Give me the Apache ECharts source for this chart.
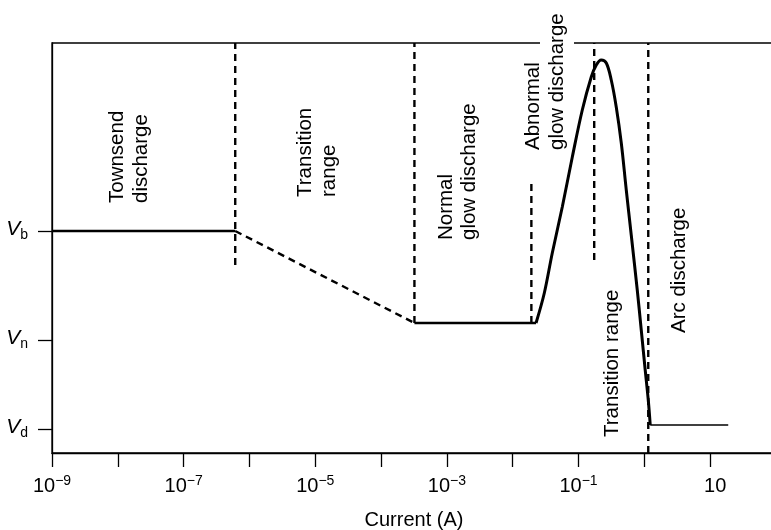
<!DOCTYPE html>
<html>
<head>
<meta charset="utf-8">
<script src="https://cdn.jsdelivr.net/npm/echarts@6/dist/echarts.min.js"></script>
<style>html,body{margin:0;padding:0;background:#fff;}#c{width:771px;height:530px;}</style>
</head>
<body>
<div id="c"></div>
<script>
// ---- data (current in A, voltage in arbitrary units) ----
const townsendPts = [[1e-9, 222], [6.08e-7, 222]];
const transitionPts = [[6.08e-7, 222], [3.21e-4, 130]];
const normalGlowPts = [[3.21e-4, 130], [0.0226, 130]];
const abnormalCurvePts = [
  [0.0226, 130], [0.0302, 160], [0.0399, 200], [0.0566, 246], [0.0804, 296],
  [0.114, 343], [0.156, 376], [0.186, 388], [0.221, 393], [0.264, 390],
  [0.314, 373], [0.374, 346], [0.446, 310], [0.531, 263], [0.632, 218],
  [0.780, 163], [0.897, 123], [1.03, 83], [1.146, 53], [1.228, 28]
];
const arcPts = [[1.228, 28], [18.8, 28]];
// dashed boundary lines: [current, lowV, highV]
const boundaries = [
  [6.08e-7, 188, 410],
  [3.21e-4, 130, 410],
  [0.0192, 130, 270],
  [0.173, 193, 410],
  [1.146, 0, 410]
];
const xTickValues = [1e-9, 1e-8, 1e-7, 1e-6, 1e-5, 1e-4, 1e-3, 1e-2, 1e-1, 1, 10];
const xLabelValues = [1e-9, 1e-7, 1e-5, 1e-3, 1e-1, 10];
const xLabelExps = ['\u22129', '\u22127', '\u22125', '\u22123', '\u22121', ''];
const yTickValues = [24, 113, 222];
const yTickSubs = ['d', 'n', 'b'];
const xMin = 1e-9, xMax = 100;

const FONT = '"Liberation Sans", Arial, Helvetica, sans-serif';
const chart = echarts.init(document.getElementById('c'), null, {renderer: 'canvas'});

function lineSeries(data, width, dashed) {
  return {
    type: 'line', data: data, showSymbol: false, symbol: 'none', smooth: false,
    lineStyle: {color: '#000', width: width, type: dashed ? [7, 5] : 'solid', cap: 'butt'},
    z: 3, silent: true, animation: false
  };
}

const series = [
  lineSeries(townsendPts, 2.6, false),
  lineSeries(transitionPts, 2.4, true),
  lineSeries(normalGlowPts, 2.6, false),
  Object.assign(lineSeries(abnormalCurvePts, 3, false), {smooth: 0.35}),
  lineSeries(arcPts, 1.5, false)
];
boundaries.forEach(b => series.push(lineSeries([[b[0], b[1]], [b[0], b[2]]], 2.4, true)));

function vertLabel(text, x, y, extra, z) {
  return {
    type: 'text', x: x, y: y, rotation: Math.PI / 2, z: z == null ? 100 : z, silent: true,
    style: Object.assign({
      text: text, fontSize: 20.5, fontFamily: FONT, fill: '#000',
      align: 'left', verticalAlign: 'top', lineHeight: 24
    }, extra || {})
  };
}

function closeTo(a, b) { return Math.abs(Math.log10(a) - Math.log10(b)) < 1e-6; }

const option = {
  animation: false,
  backgroundColor: '#fff',
  grid: {left: 52, top: 43, width: 724, height: 410, show: true, borderColor: '#000', borderWidth: 1.3,
         backgroundColor: 'transparent', containLabel: false, outerBoundsMode: 'none'},
  xAxis: {
    type: 'log', logBase: 10, min: xMin, max: xMax,
    name: 'Current (A)', nameLocation: 'middle', nameGap: 57,
    nameTextStyle: {fontSize: 20, fontFamily: FONT, color: '#000'},
    axisLine: {show: true, onZero: false, lineStyle: {color: '#000', width: 1.3}},
    axisTick: {show: true, inside: false, length: 14, customValues: xTickValues, lineStyle: {color: '#000', width: 1.3}},
    minorTick: {show: false},
    splitLine: {show: false},
    axisLabel: {
      margin: 21, color: '#000', fontFamily: FONT, fontSize: 20, customValues: xLabelValues,
      showMinLabel: true, showMaxLabel: true, hideOverlap: false,
      formatter: function (v) {
        for (let i = 0; i < xLabelValues.length; i++) {
          if (closeTo(v, xLabelValues[i])) {
            return xLabelExps[i] === '' ? '{ten|10}' : '{b|10}{s|' + xLabelExps[i] + '}';
          }
        }
        return '';
      },
      rich: {
        b: {fontSize: 20, fontFamily: FONT, color: '#000', lineHeight: 24},
        ten: {fontSize: 20, fontFamily: FONT, color: '#000', lineHeight: 24, padding: [0, 0, 0, 10]},
        s: {fontSize: 14, fontFamily: FONT, color: '#000', lineHeight: 16, padding: [0, 0, 10, 0]}
      }
    }
  },
  yAxis: {
    type: 'value', min: 0, max: 410,
    axisLine: {show: true, onZero: false, lineStyle: {color: '#000', width: 1.3}},
    axisTick: {show: true, inside: false, length: 14, customValues: yTickValues, lineStyle: {color: '#000', width: 1.3}},
    splitLine: {show: false},
    axisLabel: {
      margin: 24, customValues: yTickValues, color: '#000',
      formatter: function (v) {
        const i = yTickValues.indexOf(v);
        return i < 0 ? '' : '{v|V}{s|' + yTickSubs[i] + '}';
      },
      rich: {
        v: {fontSize: 21, fontStyle: 'italic', fontFamily: FONT, color: '#000', lineHeight: 22, padding: [0, 0, 4, 0]},
        s: {fontSize: 14, fontFamily: FONT, color: '#000', lineHeight: 16, padding: [8, 0, 0, 0]}
      }
    }
  },
  series: series,
  graphic: [
    vertLabel('Townsend\ndischarge', 105, 203),
    vertLabel('Transition\nrange', 293, 197),
    vertLabel('Normal\nglow discharge', 435, 240, {lineHeight: 23}),
    vertLabel('glow discharge', 540, 150, {backgroundColor: '#fff', padding: [5, 4, 5, 0]}, 1),
    vertLabel('Abnormal', 521, 150),
    vertLabel('Transition range', 600, 437),
    vertLabel('Arc discharge', 667, 333)
  ]
};
chart.setOption(option);
</script>
</body>
</html>
